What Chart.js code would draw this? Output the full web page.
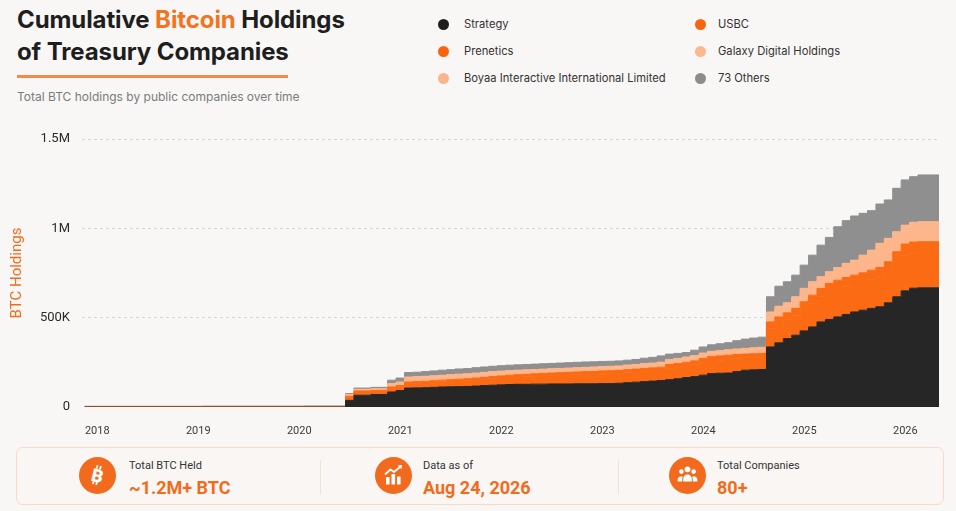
<!DOCTYPE html>
<html>
<head>
<meta charset="utf-8">
<script src="https://cdn.jsdelivr.net/npm/chart.js@4.4.1/dist/chart.umd.min.js"></script>
<style>
html,body{margin:0;padding:0;}
body{width:956px;height:511px;overflow:hidden;background:#f8f7f5;position:relative;font-family:Inter,Roboto,sans-serif;color:#222;}
#title{position:absolute;left:17px;top:4px;font-weight:700;font-size:24px;line-height:32.4px;color:#1e1e1e;white-space:nowrap;letter-spacing:-0.1px;}
#title .hl{color:#f4731f;}
#rule{position:absolute;left:17px;top:75px;width:271px;height:2.5px;background:#f28a4c;}
#sub{position:absolute;left:17px;top:89px;font-size:12px;color:#7b7b7b;white-space:nowrap;}
.lg{position:absolute;height:16px;font-size:11.2px;color:#333;white-space:nowrap;}
.lg .dot{position:absolute;width:11px;height:11px;border-radius:50%;top:2.5px;}
.lg .txt{position:absolute;top:0;line-height:16px;}
#chartWrap{position:absolute;left:0;top:115px;width:956px;height:325px;}
#card{position:absolute;left:16px;top:447px;width:926px;height:56px;border:1px solid #f8d8c6;border-radius:7px;background:#faf6f3;}
.div{position:absolute;top:460px;width:1px;height:34px;background:#f0e2d9;}
.ico{position:absolute;width:37px;height:37px;border-radius:50%;background:#f26a1d;}
.ico svg{position:absolute;left:0;top:0;width:37px;height:37px;}
.lab{position:absolute;font-family:Roboto,sans-serif;font-size:11px;color:#333;white-space:nowrap;line-height:13px;}
.val{position:absolute;font-family:Roboto,sans-serif;font-weight:700;font-size:18px;color:#f26b1d;white-space:nowrap;line-height:20px;}
</style>
</head>
<body>
<div id="title">Cumulative <span class="hl">Bitcoin</span> Holdings<br>of Treasury Companies</div>
<div id="rule"></div>
<div id="sub">Total BTC holdings by public companies over time</div>
<div id="legend"></div>
<div id="chartWrap"><canvas id="c" width="956" height="325"></canvas></div>

<div id="card"></div>
<div class="div" style="left:320px"></div>
<div class="div" style="left:618px"></div>

<div class="ico" style="left:79px;top:457px">
<svg viewBox="0 0 37 37"><g transform="rotate(14 18.5 18.5)" fill="#fff">
<text x="18.5" y="25" text-anchor="middle" font-family="Roboto" font-weight="900" font-size="18">B</text>
<rect x="15.2" y="8.5" width="1.8" height="3.5"/><rect x="18.6" y="8.5" width="1.8" height="3.5"/>
<rect x="15.2" y="24.5" width="1.8" height="3.5"/><rect x="18.6" y="24.5" width="1.8" height="3.5"/>
</g></svg></div>
<div class="lab" style="left:129px;top:459px">Total BTC Held</div>
<div class="val" style="left:129px;top:478px">~1.2M+ BTC</div>

<div class="ico" style="left:375px;top:457px">
<svg viewBox="0 0 37 37" fill="#fff">
<rect x="11" y="20" width="3.6" height="7.5" rx="0.6"/>
<rect x="16.5" y="17" width="3.6" height="10.5" rx="0.6"/>
<rect x="22" y="19.5" width="3.6" height="8" rx="0.6"/>
<polyline points="10.5,17 15.5,12.5 19,15 25.5,9.5" fill="none" stroke="#fff" stroke-width="1.8" stroke-linejoin="round" stroke-linecap="round"/>
<polygon points="27,8 22.8,8.6 26.4,12.2"/>
</svg></div>
<div class="lab" style="left:423px;top:459px">Data as of</div>
<div class="val" style="left:423px;top:478px">Aug 24, 2026</div>

<div class="ico" style="left:669px;top:457px">
<svg viewBox="0 0 37 37" fill="#fff">
<circle cx="18.5" cy="12.3" r="2.9"/>
<circle cx="12.4" cy="14.6" r="2.3"/>
<circle cx="24.6" cy="14.6" r="2.3"/>
<path d="M14.2 24.5 v-2.8 a4.3 4.3 0 0 1 8.6 0 v2.8 z"/>
<path d="M8.6 24.5 v-1.8 a3.3 3.3 0 0 1 5.2 -2.7 a5.5 5.5 0 0 0 -0.6 2.3 v2.2 z"/>
<path d="M28.4 24.5 v-1.8 a3.3 3.3 0 0 0 -5.2 -2.7 a5.5 5.5 0 0 1 0.6 2.3 v2.2 z"/>
</svg></div>
<div class="lab" style="left:717px;top:459px">Total Companies</div>
<div class="val" style="left:717px;top:478px">80+</div>

<script>
// ---- data (thousands of BTC) ----
const dates = ['2017-11','2019-01','2020-01','2020-06','2020-07','2020-09','2020-11','2020-12',
  '2021-01','2021-02','2021-03','2021-04','2021-05','2021-06','2021-07','2021-08','2021-09','2021-10','2021-11','2021-12',
  '2022-01','2022-02','2022-03','2022-04','2022-05','2022-06','2022-07','2022-08','2022-09','2022-10','2022-11','2022-12',
  '2023-01','2023-02','2023-03','2023-04','2023-05','2023-06','2023-07','2023-08','2023-09','2023-10','2023-11','2023-12',
  '2024-01','2024-02','2024-03','2024-04','2024-05','2024-06','2024-07',
  '2024-08','2024-09','2024-10','2024-11','2024-12',
  '2025-01','2025-02','2025-03','2025-04','2025-05','2025-06','2025-07','2025-08','2025-09','2025-10','2025-11','2025-12',
  '2026-01','2026-02','2026-05'];
const strategy  = [0,0,0,37,66,70,84,92,
  106,107,108,110,112,113,114,115,117,120,122,124,
  126,127,127,128,128,129,129,129,130,130,130,131,
  131,133,136,139,142,145,148,153,158,165,170,178,
  187,189,190,198,206,208,210,
  336,359,383,402,426,
  448,476,490,504,518,532,542,552,561,583,617,650,
  665,667,667];
const usbc      = [0,0,0,17,18,17,21,21,
  26,26,27,28,29,30,32,32,34,35,36,38,
  39,41,42,44,45,46,47,49,50,51,52,53,
  54,54,55,55,56,56,56,64,64,64,66,70,
  71,73,75,72,68,68,68,
  105,109,108,112,122,
  133,141,151,154,155,154,157,160,165,172,189,196,
  193,193,193];
const prenetics = [0,0,0,6,6,6,7,7,
  8,9,9,9,9,10,10,11,11,11,12,12,
  13,13,14,14,15,15,16,16,16,17,17,18,
  18,18,18,18,18,18,19,21,21,21,22,24,
  24,24,25,24,22,22,22,
  35,36,36,38,41,
  45,47,51,52,52,52,52,54,55,58,63,66,
  65,65,65];
const galaxy    = [1.5,1.5,2,7,6,6,13,14,
  20,20,20,20,20,20,20,20,20,20,20,19,
  18,18,18,17,17,17,17,17,17,17,18,18,
  18,18,18,18,19,19,20,20,20,21,21,21,
  21,21,21,22,22,23,24,
  39,42,39,45,52,
  52,45,45,50,55,59,69,78,94,92,78,74,
  78,78,78];
const boyaa     = [0,0,0,3,3,3,6,6,
  8,8,8,8,8,8,8,8,8,8,8,8,
  8,7,7,7,7,7,7,7,7,7,7,7,
  7,7,8,8,8,8,8,8,9,9,9,9,
  9,9,9,9,10,10,10,
  17,18,17,20,23,
  23,20,20,21,24,25,30,34,41,39,34,32,
  33,34,34];
const others    = [2.5,3.5,4,5,7,8,19,22,
  25,25,26,27,28,28,29,29,30,30,30,30,
  30,30,30,30,30,30,30,30,30,30,29,28,
  28,28,27,28,30,32,35,30,28,25,30,34,
  36,38,40,46,52,55,57,
  85,112,118,121,130,
  149,177,192,228,239,247,234,221,220,215,243,253,
  255,262,262];
const seriesNames = ['Strategy','USBC','Prenetics','Galaxy Digital Holdings','Boyaa Interactive International Limited','73 Others'];
const xTickYears = [2018,2019,2020,2021,2022,2023,2024,2025,2026];
const yTickValues = [0,500,1000,1500];
const yTickLabels = ['0','500K','1M','1.5M'];

// ---- styles ----
const fillColors = ['#262626','#fb6b14','#fb6b14','#fdb68b','#fdb68b','#8f8f8f'];
const legendColors = ['#1f1f1f','#f8650f','#f9640f','#fbb890','#fbb58d','#8c8c8c'];
const seriesValues = [strategy,usbc,prenetics,galaxy,boyaa,others];

function toYear(d){const [y,m]=d.split('-').map(Number);return y+(m-0.5)/12;}

// legend
const legendPos = [[443,464,24],[700,718,24],[443,464,51],[700,718,51],[443,464,78],[700,718,78]];
const lg = document.getElementById('legend');
seriesNames.forEach((n,i)=>{
  const [cx,tx,cy]=legendPos[i];
  const el=document.createElement('div');
  el.className='lg';
  el.style.left='0px';el.style.top=(cy-8)+'px';
  el.innerHTML='<span class="dot" style="left:'+(cx-5.5)+'px;background:'+legendColors[i]+'"></span><span class="txt" style="left:'+tx+'px">'+n+'</span>';
  lg.appendChild(el);
});

Chart.defaults.font.family = 'Roboto';
new Chart(document.getElementById('c'),{
  type:'line',
  data:{datasets: seriesNames.map((n,i)=>({
    label:n,
    data: dates.map((d,j)=>({x:toYear(d), y:seriesValues[i][j]})),
    backgroundColor: fillColors[i],
    borderColor: fillColors[i],
    borderWidth: 1,
    fill: i===0 ? 'origin' : '-1',
    stepped: true,
    pointRadius: 0,
    pointHoverRadius: 0,
    tension: 0
  }))},
  options:{
    responsive:false, animation:false,
    layout:{padding:{top:24,right:17,left:0,bottom:0}},
    plugins:{legend:{display:false},tooltip:{enabled:false}},
    scales:{
      x:{type:'linear', min:2017.849, max:2026.333,
        grid:{display:false}, border:{display:false},
        afterBuildTicks:s=>{s.ticks=xTickYears.map(v=>({value:v}));},
        ticks:{callback:(v,i)=>String(xTickYears[i]), color:'#3a3a3a', font:{size:11}, padding:10, maxRotation:0, autoSkip:false},
        afterFit:s=>{s.height=33;}
      },
      y:{stacked:true, min:0, max:1500,
        afterBuildTicks:s=>{s.ticks=yTickValues.map(v=>({value:v}));},
        ticks:{callback:(v,i)=>yTickLabels[i], color:'#2a2a2a', font:{size:13}, padding:12},
        grid:{drawTicks:false, lineWidth:1, color:c=>(c.tick && c.tick.value===0)?'rgba(0,0,0,0)':'#d6d6d6'},
        border:{display:false, dash:[3,3]},
        title:{display:true, text:'BTC Holdings', color:'#f26b1d', font:{size:15}, padding:{top:8,bottom:0}},
        afterFit:s=>{s.width=82;}
      }
    }
  }
});
</script>
</body>
</html>
